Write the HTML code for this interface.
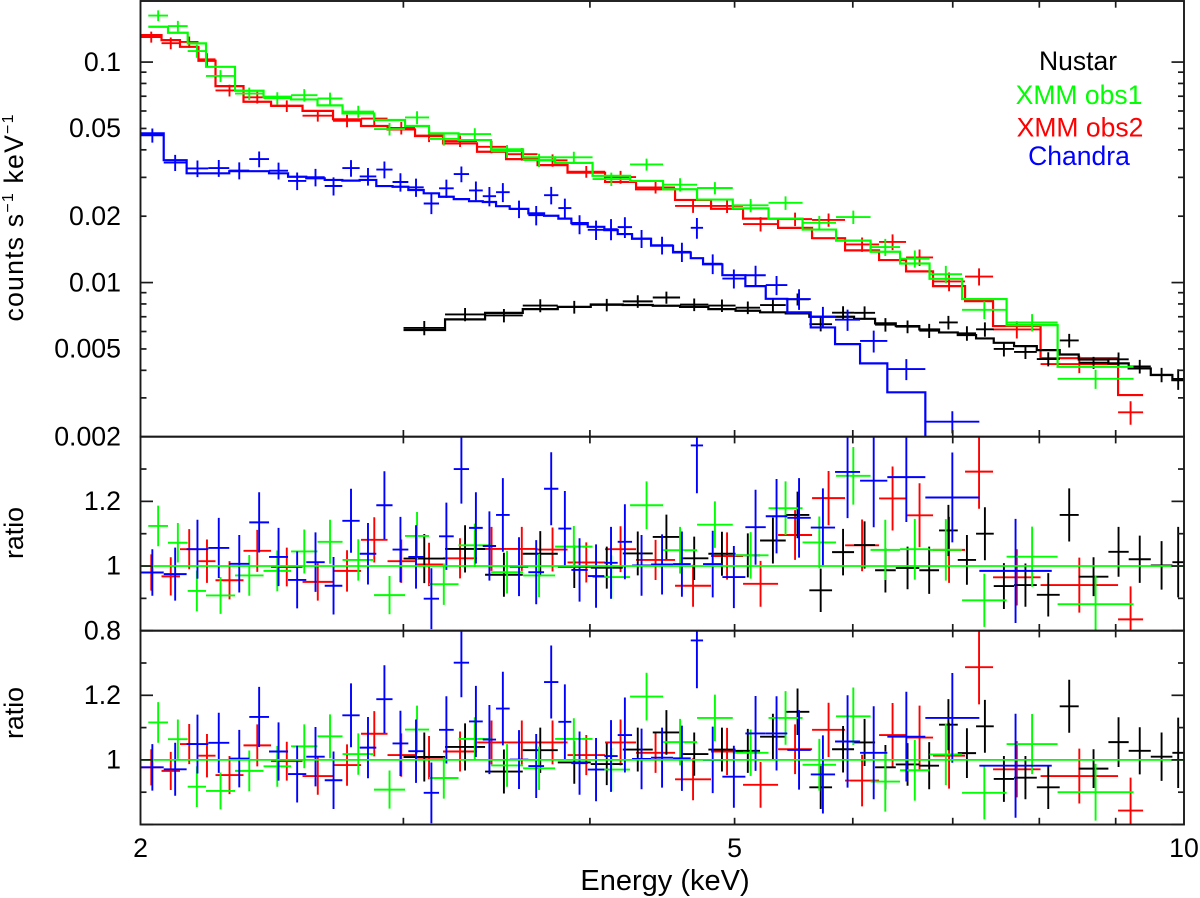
<!DOCTYPE html>
<html lang="en">
<head>
<meta charset="utf-8">
<title>Energy spectrum with ratio panels</title>
<style>
html,body{margin:0;padding:0;background:#fff;width:1200px;height:898px;overflow:hidden}
svg{display:block;font-family:"Liberation Sans",Arial,sans-serif}
text{fill:#000}
</style>
</head>
<body>
<svg id="chart" xmlns="http://www.w3.org/2000/svg" width="1200" height="898" viewBox="0 0 1200 898">
  <defs>
    <clipPath id="clip-top"><rect x="140.5" y="1" width="1043.5" height="435.7"/></clipPath>
    <clipPath id="clip-mid"><rect x="140.5" y="436.7" width="1043.5" height="194"/></clipPath>
    <clipPath id="clip-bot"><rect x="140.5" y="630.7" width="1043.5" height="193.8"/></clipPath>
  </defs>
  <g id="top-marks" clip-path="url(#clip-top)"></g>
  <g id="mid-marks" clip-path="url(#clip-mid)"></g>
  <g id="bot-marks" clip-path="url(#clip-bot)"></g>
  <g id="axes"></g>
  <text transform="translate(23 218) rotate(-90)" text-anchor="middle" font-size="26.7" textLength="207" lengthAdjust="spacing">counts s<tspan font-size="16" dy="-10">−1</tspan><tspan dy="10"> keV</tspan><tspan font-size="16" dy="-10">−1</tspan></text>
  <text transform="translate(23 533) rotate(-90)" text-anchor="middle" font-size="26.7">ratio</text>
  <text transform="translate(23 713) rotate(-90)" text-anchor="middle" font-size="26.7">ratio</text>
  <text x="665" y="890" text-anchor="middle" font-size="29">Energy (keV)</text>
  <g text-anchor="middle" font-size="26.5">
    <text x="1078" y="70" style="fill:#000">Nustar</text>
    <text x="1079" y="104" style="fill:#00ff00">XMM obs1</text>
    <text x="1080" y="136.5" style="fill:#ff0000">XMM obs2</text>
    <text x="1079" y="165" style="fill:#0000ff">Chandra</text>
  </g>
</svg>
<script>
/* ---------- axis tick data ---------- */
const xMajorTicks = [2, 5, 10];
const xMinorTicks = [3, 4, 6, 7, 8, 9];
const xTickLabels = ["2", "5", "10"];
const countMajorTicks = [0.1, 0.01];
const countMinorTicks = [0.09, 0.08, 0.07, 0.06, 0.05, 0.04, 0.03, 0.02, 0.009, 0.008, 0.007, 0.006, 0.005, 0.004, 0.003];
const countLabelValues = [0.1, 0.05, 0.02, 0.01, 0.005, 0.002];
const countTickLabels = ["0.1", "0.05", "0.02", "0.01", "0.005", "0.002"];
const ratioMajorTicks = [1.2, 1, 0.8];
const ratioMinorTicks = [1.3, 1.1, 0.9];
const upperRatioLabelValues = [1.2, 1, 0.8];
const upperRatioLabels = ["1.2", "1", "0.8"];
const lowerRatioLabelValues = [1.2, 1];
const lowerRatioLabels = ["1.2", "1"];

/* ---------- XMM obs2 (red) ---------- */
const xmm2Edges = [2.0015,2.0659,2.1256,2.1870,2.2453,2.3444,2.4461,2.5678,2.6915,2.8103,2.9275,3.0544,3.1892,3.3608,3.5147,3.6896,3.8643,4.0945,4.2951,4.5614,4.8217,5.0657,5.3468,5.6346,5.9289,6.2482,6.5136,6.7906,7.1343,7.4490,8.0154,9.0332,9.3883];
const xmm2Model = [.1326,.1258,.1173,.1014,.0778,.0661,.0634,.0601,.0550,.0513,.0495,.0462,.0428,.0392,.0363,.0341,.0315,.0286,.0265,.0237,.0216,.0195,.0177,.0159,.0140,.01265,.01124,.00964,.00824,.00635,.00454,.00309];
const xmm2Ratio1 = [.980,.968,1.052,1.015,.956,1.047,.997,.951,.985,1.081,1.015,1.005,1.024,1.053,1.053,1.051,1.011,1.052,1.019,.939,1.031,.945,1.096,1.210,1.064,1.209,1.157,1.050,1.292,.965,.941,.835];
const xmm2Ratio2 = [.977,.966,1.049,1.013,.953,1.045,.996,.950,.984,1.081,1.015,1.007,1.026,1.054,1.054,1.054,1.015,1.054,1.022,.940,1.026,.923,1.033,1.093,.936,1.077,1.069,1.013,1.287,.971,.950,.843];
const xmm2RatioErr = [.056,.059,.062,.067,.059,.065,.060,.058,.064,.070,.067,.067,.062,.068,.068,.068,.062,.071,.062,.065,.073,.071,.077,.084,.080,.099,.099,.102,.115,.087,.085,.102];

/* ---------- Nustar (black) ---------- */
const nustarEdges = [3.0006,3.1991,3.4028,3.6065,3.8066,4.0053,4.2078,4.4071,4.5967,4.8018,5.0075,5.2004,5.4105,5.6109,5.8111,6.0117,6.2097,6.4110,6.6483,6.8537,7.0545,7.2563,7.4570,7.6943,7.9691,8.2555,8.5010,8.8991,9.1825,9.5006,9.8224,10];
const nustarModel = [.00609,.00681,.00729,.00758,.00776,.00796,.00791,.00785,.00776,.00758,.00745,.00733,.00725,.00700,.00700,.00685,.00653,.00635,.00613,.00594,.00578,.00558,.00533,.00515,.00494,.00472,.00448,.00430,.00408,.00381,.00361];
const nustarRatio1 = [1.023,1.053,.973,1.038,.998,.995,1.039,1.090,1.024,1.038,1.033,1.079,1.158,.925,1.043,1.065,.987,.994,.987,1.110,1.019,1.100,.938,.941,.911,1.158,.967,1.044,1.021,1.002,1.012];
const nustarRatio2 = [1.009,1.040,.964,1.030,.992,.987,1.032,1.085,1.018,1.032,1.028,1.072,1.149,.915,1.033,1.054,.977,.986,.982,1.109,1.021,1.104,.941,.945,.915,1.166,.973,1.055,1.028,1.010,1.022];
const nustarRatioErr = [.076,.073,.068,.070,.066,.065,.068,.069,.067,.068,.068,.071,.072,.067,.072,.073,.069,.066,.073,.079,.077,.082,.071,.067,.067,.082,.060,.077,.073,.075,.109];

/* ---------- XMM obs1 (green) ---------- */
const xmm1Edges = [2.0242,2.0867,2.1510,2.2127,2.3139,2.4179,2.5228,2.6278,2.7312,2.8672,3.0076,3.1211,3.2663,3.4343,3.6081,3.7908,4.0164,4.2555,4.4777,4.7187,4.9859,5.2687,5.5526,5.8471,6.1666,6.4536,6.7540,7.1013,7.6061,8.2287,9.2516];
const xmm1Model = [.1446,.1358,.1216,.0952,.0741,.0696,.0677,.0636,.0585,.0546,.0513,.0475,.0443,.0402,.0370,.0349,.0305,.0289,.0265,.0238,.0217,.0195,.0174,.0155,.0138,.0122,.0104,.00842,.00641,.00415];
const xmm1Ratio1 = [1.124,1.072,.923,.909,.971,.985,1.045,1.075,1.019,.910,1.093,.944,1.064,.981,.971,1.060,.966,1.188,1.049,1.128,1.033,1.179,1.073,1.279,1.050,1.052,1.050,.894,1.029,.882];
const xmm1Ratio2 = [1.116,1.064,.917,.904,.966,.980,1.042,1.073,1.018,.908,1.094,.944,1.065,.983,.974,1.065,.970,1.196,1.055,1.130,1.022,1.130,.985,1.135,.933,.968,1.017,.898,1.049,.900];
const xmm1RatioErr = [.063,.061,.063,.057,.063,.063,.068,.068,.064,.059,.074,.064,.067,.066,.067,.064,.067,.074,.072,.072,.072,.083,.080,.089,.093,.094,.095,.082,.093,.088];

/* ---------- Chandra (blue) ---------- */
const chandraEdges = [2.0015,2.0729,2.1475,2.2204,2.2934,2.3653,2.4385,2.5111,2.5827,2.6572,2.7304,2.8044,2.8773,2.9502,3.0230,3.0955,3.1696,3.2422,3.3197,3.3907,3.4609,3.5344,3.6377,3.7269,3.8100,3.8872,3.9866,4.0900,4.1752,4.2686,4.3956,4.5473,4.6732,4.7626,4.9066,5.0838,5.2462,5.4238,5.6233,5.8381,6.0676,6.3282,6.7103,7.2931,8.1550];
const chandraModel = [.0475,.0359,.0313,.0313,.0320,.0320,.0313,.0302,.0297,.0292,.0290,.0292,.0274,.0272,.0263,.0254,.0245,.0239,.0234,.0232,.0222,.0216,.0206,.0201,.0195,.0186,.0179,.0173,.0166,.0158,.0147,.0137,.0129,.0121,.0108,.00964,.00844,.00733,.00626,.00526,.00430,.00318,.00193,.00127];
const chandraRatio1 = [.980,.975,1.052,1.056,1.007,1.135,1.028,.957,1.012,.939,1.140,1.038,1.188,1.051,1.028,.899,1.092,1.300,1.118,1.062,1.158,.998,.981,1.239,1.116,.988,.969,1.010,1.075,1.002,1.005,1.006,1.373,1.006,.966,1.120,1.154,1.149,1.119,1.291,1.264,1.275,1.212,.985];
const chandraRatio2 = [.977,.971,1.049,1.053,1.004,1.133,1.026,.956,1.010,.937,1.138,1.038,1.188,1.051,1.027,.898,1.093,1.301,1.119,1.063,1.159,1.001,.981,1.241,1.118,.990,.970,1.012,1.077,1.003,1.007,1.005,1.370,1.000,.948,1.082,1.082,1.031,.955,1.057,1.022,1.072,1.130,.982];
const chandraRatioErr = [.072,.082,.091,.093,.089,.093,.090,.088,.092,.089,.099,.095,.105,.101,.098,.094,.104,.107,.110,.107,.114,.091,.099,.113,.116,.098,.098,.111,.116,.094,.093,.101,.148,.103,.096,.116,.115,.123,.121,.143,.144,.139,.139,.161];

/* ---------- series draw order ---------- */
const seriesList = [
  {name:"xmm-obs2", color:"#ff0000", edges:xmm2Edges, model:xmm2Model, r1:xmm2Ratio1, r2:xmm2Ratio2, err:xmm2RatioErr},
  {name:"nustar",   color:"#000000", edges:nustarEdges, model:nustarModel, r1:nustarRatio1, r2:nustarRatio2, err:nustarRatioErr},
  {name:"xmm-obs1", color:"#00ff00", edges:xmm1Edges, model:xmm1Model, r1:xmm1Ratio1, r2:xmm1Ratio2, err:xmm1RatioErr},
  {name:"chandra",  color:"#0000ff", edges:chandraEdges, model:chandraModel, r1:chandraRatio1, r2:chandraRatio2, err:chandraRatioErr}
];

/* ---------- axis functions ---------- */
const FRAME = {left:140.5, right:1184, top:1, topBottom:436.7, midBottom:630.7, botBottom:824.5};
function xScale(e){ return FRAME.left + (FRAME.right-FRAME.left)*Math.log(e/2)/Math.log(5); }
function yCounts(v){ return FRAME.topBottom - 220.5*Math.log10(v/0.002); }
function yRatioUpper(r){ return FRAME.midBottom - (r-0.8)*(FRAME.midBottom-FRAME.topBottom)/0.6; }
function yRatioLower(r){ return FRAME.botBottom - (r-0.8)*(FRAME.botBottom-FRAME.midBottom)/0.6; }

const SVGNS = "http://www.w3.org/2000/svg";
function make(tag, attrs, parent){
  const el = document.createElementNS(SVGNS, tag);
  for (const k in attrs) el.setAttribute(k, attrs[k]);
  parent.appendChild(el);
  return el;
}

function stepPath(edges, values, yFn){
  let d = "";
  values.forEach(function(v,i){
    const y = yFn(v).toFixed(2);
    d += (i===0?"M":"L") + xScale(edges[i]).toFixed(2) + " " + y + "L" + xScale(edges[i+1]).toFixed(2) + " " + y;
  });
  return d;
}
function crossPath(lo, hi, val, low, high, yFn){
  const mid = Math.sqrt(lo*hi);
  return "M"+xScale(lo).toFixed(2)+" "+yFn(val).toFixed(2)+"H"+xScale(hi).toFixed(2)+
         "M"+xScale(mid).toFixed(2)+" "+yFn(low).toFixed(2)+"V"+yFn(high).toFixed(2);
}

const topMarks = document.getElementById("top-marks");
const midMarks = document.getElementById("mid-marks");
const botMarks = document.getElementById("bot-marks");
const axes = document.getElementById("axes");

seriesList.forEach(function(s){
  const step = make("path", {d:stepPath(s.edges,s.model,yCounts), fill:"none", stroke:s.color, "stroke-width":2.2}, topMarks);
  
  
  s.model.forEach(function(m,i){
    const lo = s.edges[i], hi = s.edges[i+1], e = s.err[i];
    const a = make("path", {d:crossPath(lo,hi,m*s.r1[i],m*(s.r1[i]-e),m*(s.r1[i]+e),yCounts), fill:"none", stroke:s.color, "stroke-width":1.9}, topMarks);
    
    
    const b = make("path", {d:crossPath(lo,hi,s.r1[i],s.r1[i]-e,s.r1[i]+e,yRatioUpper), fill:"none", stroke:s.color, "stroke-width":1.9}, midMarks);
    
    
    const c = make("path", {d:crossPath(lo,hi,s.r2[i],s.r2[i]-e,s.r2[i]+e,yRatioLower), fill:"none", stroke:s.color, "stroke-width":1.9}, botMarks);
    
    
  });
});

/* unity lines */
const unityUpper = make("line", {x1:FRAME.left, x2:FRAME.right, y1:yRatioUpper(1), y2:yRatioUpper(1), stroke:"#00ff00", "stroke-width":1.8}, midMarks);


const unityLower = make("line", {x1:FRAME.left, x2:FRAME.right, y1:yRatioLower(1), y2:yRatioLower(1), stroke:"#00ff00", "stroke-width":1.8}, botMarks);



/* frames */
[[FRAME.top,FRAME.topBottom,"spectrum-frame"],[FRAME.topBottom,FRAME.midBottom,"ratio-upper-frame"],[FRAME.midBottom,FRAME.botBottom,"ratio-lower-frame"]].forEach(function(p){
  const f = make("rect", {x:FRAME.left, y:p[0], width:FRAME.right-FRAME.left, height:p[1]-p[0], fill:"none", stroke:"#1a1a1a", "stroke-width":1.9}, axes);
  
  
});

function tickLine(x1,y1,x2,y2,name){
  const t = make("line", {x1:x1, y1:y1, x2:x2, y2:y2, stroke:"#1a1a1a", "stroke-width":1.7}, axes);
  
  
}
function yTicks(values, yFn, len, name){
  values.forEach(function(v){
    const y = yFn(v);
    tickLine(FRAME.left,y,FRAME.left+len,y,name);
    tickLine(FRAME.right,y,FRAME.right-len,y,name);
  });
}
yTicks(countMajorTicks, yCounts, 12.5, 'y-major-tick');
yTicks(countMinorTicks, yCounts, 6, 'y-minor-tick');
[yRatioUpper, yRatioLower].forEach(function(fn){
  yTicks(ratioMajorTicks, fn, 12.5, 'ratio-major-tick');
  yTicks(ratioMinorTicks, fn, 6, 'ratio-minor-tick');
});
xMinorTicks.concat([5]).forEach(function(e){
  const x = xScale(e);
  [[FRAME.top,6.7],[FRAME.topBottom,-6.7],[FRAME.topBottom,6.7],[FRAME.midBottom,-6.7],[FRAME.midBottom,6.7],[FRAME.botBottom,-6.7]].forEach(function(p){
    tickLine(x,p[0],x,p[0]+p[1],'x-tick');
  });
});

function label(x,y,txt,anchor,name){
  const t = make("text", {x:x, y:y, "text-anchor":anchor, "font-size":26.7}, axes);
  t.textContent = txt;
  
  
}
countLabelValues.forEach(function(v,i){ label(121, yCounts(v)+8.7, countTickLabels[i], "end", 'y-tick-label'); });
upperRatioLabelValues.forEach(function(v,i){ label(121, yRatioUpper(v)+8.7, upperRatioLabels[i], "end", 'ratio-upper-tick-label'); });
lowerRatioLabelValues.forEach(function(v,i){ label(121, yRatioLower(v)+8.7, lowerRatioLabels[i], "end", 'ratio-lower-tick-label'); });
xMajorTicks.forEach(function(e,i){ label(xScale(e), 857, xTickLabels[i], "middle", 'x-tick-label'); });
</script>
</body>
</html>
